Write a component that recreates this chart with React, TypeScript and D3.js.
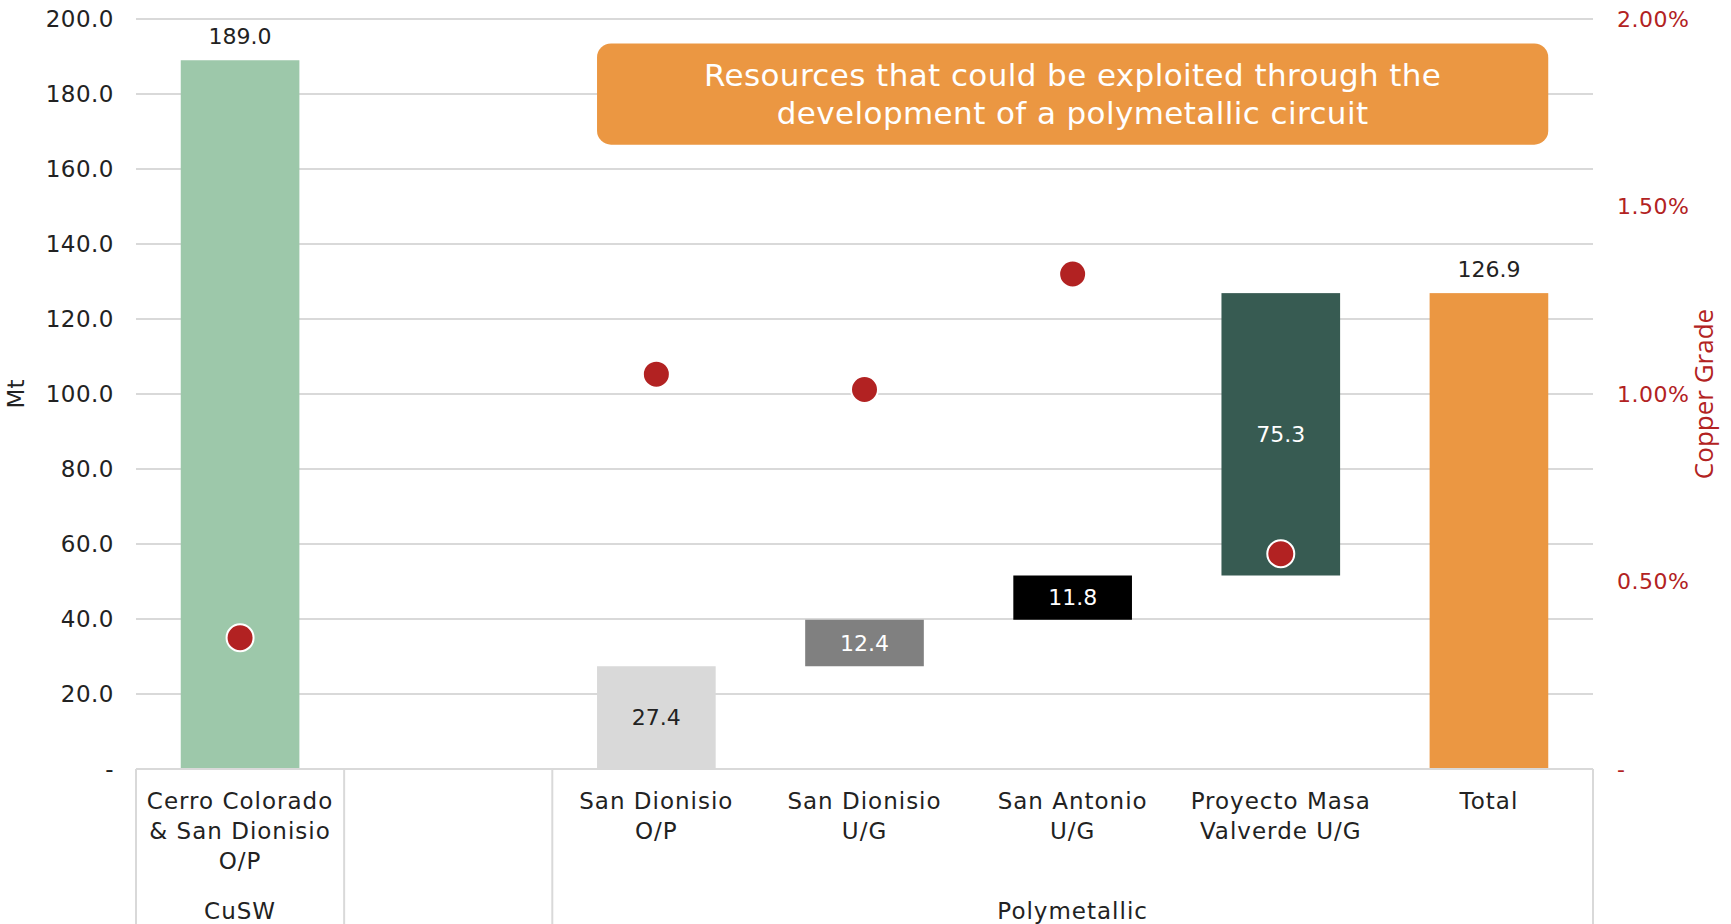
import React, { useEffect } from "react";
import * as d3 from "d3";

// categories (index 1 is an empty spacer slot in the original chart)
const categories = [
  ["Cerro Colorado", "& San Dionisio", "O/P"],
  [],
  ["San Dionisio", "O/P"],
  ["San Dionisio", "U/G"],
  ["San Antonio", "U/G"],
  ["Proyecto Masa", "Valverde U/G"],
  ["Total"],
];
const barBase = [0, null, 0, 27.4, 39.8, 51.6, 0];
const barValue = [189.0, null, 27.4, 12.4, 11.8, 75.3, 126.9];
const barColor = ["#9DC8AA", null, "#D9D9D9", "#808080", "#000000", "#375B52", "#EB9742"];
const copperGrade = [0.35, null, 1.053, 1.012, 1.32, 0.574, null];
const groups = [
  { label: "CuSW", from: 0, to: 0 },
  { label: "", from: 1, to: 1 },
  { label: "Polymetallic", from: 2, to: 6 },
];
const leftTicks = [0, 20, 40, 60, 80, 100, 120, 140, 160, 180, 200];
const rightTicks = [0, 0.5, 1.0, 1.5, 2.0];
const note = ["Resources that could be exploited through the", "development of a polymetallic circuit"];

const W = 1731;
const H = 924;
const FONT = "'DejaVu Sans', 'Open Sans', sans-serif";
const RED = "#B22222";

export default function App() {
  useEffect(() => {
    document.body.style.margin = "0";
  }, []);

  const margin = { left: 136, right: 138, top: 19, bottom: 155 };
  const x = d3
    .scaleBand<number>()
    .domain(d3.range(categories.length))
    .range([margin.left, W - margin.right])
    .paddingInner(0.43)
    .paddingOuter(0.215);
  const step = x.step();
  const slotStart = (i: number) => margin.left + i * step;
  const y = d3.scaleLinear().domain([0, 200]).range([H - margin.bottom, margin.top]);
  const yR = d3.scaleLinear().domain([0, 2]).range([H - margin.bottom, margin.top]);
  const x0 = margin.left;
  const x1 = W - margin.right;
  const yBase = y(0);

  return (
    <svg width={W} height={H} style={{ display: "block", background: "#fff" }} fontFamily={FONT}>
      {/* gridlines */}
      {leftTicks.slice(1).map((t) => (
        <line key={t} x1={x0} x2={x1} y1={y(t)} y2={y(t)} stroke="#D9D9D9" strokeWidth={2} />
      ))}
      {/* left axis labels */}
      {leftTicks.map((t) => (
        <text key={t} x={114} y={y(t)} dy="0.35em" textAnchor="end" fontSize={23} letterSpacing={0.5} fill="#222">
          {t === 0 ? "-" : d3.format(".1f")(t)}
        </text>
      ))}
      <text transform={`translate(24,${(y(0) + y(200)) / 2}) rotate(-90)`} textAnchor="middle" fontSize={23} fill="#222">
        Mt
      </text>
      {/* right axis labels */}
      {rightTicks.map((t) => (
        <text key={t} x={1617} y={yR(t)} dy="0.35em" fontSize={22} letterSpacing={0.5} fill={RED}>
          {t === 0 ? "-" : d3.format(".2f")(t) + "%"}
        </text>
      ))}
      <text
        transform={`translate(1713,${(yR(0) + yR(2)) / 2}) rotate(-90)`}
        textAnchor="middle"
        fontSize={26}
        fontFamily="'Open Sans', sans-serif"
        fill={RED}
      >
        Copper Grade
      </text>

      {/* bars */}
      {barValue.map((v, i) =>
        v == null ? null : (
          <rect
            key={i}
            x={x(i)}
            width={x.bandwidth()}
            y={y((barBase[i] as number) + v)}
            height={y(barBase[i] as number) - y((barBase[i] as number) + v)}
            fill={barColor[i] as string}
          />
        )
      )}
      {/* bar labels */}
      {barValue.map((v, i) => {
        if (v == null) return null;
        const b = barBase[i] as number;
        const floating = i >= 2 && i <= 5;
        const cx = (x(i) as number) + x.bandwidth() / 2;
        if (floating) {
          return (
            <text key={i} x={cx} y={y(b + v / 2)} dy="0.35em" textAnchor="middle" fontSize={22} fill={i === 2 ? "#222" : "#fff"}>
              {d3.format(".1f")(v)}
            </text>
          );
        }
        return (
          <text key={i} x={cx} y={y(b + v) - 24} dy="0.35em" textAnchor="middle" fontSize={22} fill="#222">
            {d3.format(".1f")(v)}
          </text>
        );
      })}

      {/* copper grade dots */}
      {copperGrade.map((g, i) =>
        g == null ? null : (
          <circle key={i} cx={(x(i) as number) + x.bandwidth() / 2} cy={yR(g)} r={13.5} fill={RED} stroke="#fff" strokeWidth={2} />
        )
      )}

      {/* annotation box */}
      <rect
        x={x(2)}
        y={y(193.5)}
        width={(x(6) as number) + x.bandwidth() - (x(2) as number)}
        height={y(166.5) - y(193.5)}
        rx={14}
        fill="#EB9742"
      />
      {note.map((line, k) => (
        <text
          key={k}
          x={((x(2) as number) + (x(6) as number) + x.bandwidth()) / 2}
          y={y(180) + (k - 0.5) * 38}
          dy="0.35em"
          textAnchor="middle"
          fontSize={31}
          letterSpacing={0.4}
          fill="#fff"
        >
          {line}
        </text>
      ))}

      {/* category axis */}
      <line x1={x0} x2={x1} y1={yBase} y2={yBase} stroke="#D9D9D9" strokeWidth={2} />
      {[0, 1, 2, categories.length].map((i) => (
        <line key={i} x1={slotStart(i)} x2={slotStart(i)} y1={yBase} y2={H} stroke="#D9D9D9" strokeWidth={2} />
      ))}
      {categories.map((lines, i) =>
        lines.map((ln, k) => (
          <text
            key={`${i}-${k}`}
            x={(x(i) as number) + x.bandwidth() / 2}
            y={yBase + 32 + k * 30}
            dy="0.35em"
            textAnchor="middle"
            fontSize={23}
            letterSpacing={1}
            fill="#222"
          >
            {ln}
          </text>
        ))
      )}
      {groups.map((g) => (
        <text
          key={g.label + g.from}
          x={(slotStart(g.from) + slotStart(g.to + 1)) / 2}
          y={yBase + 142}
          dy="0.35em"
          textAnchor="middle"
          fontSize={23}
          letterSpacing={1}
          fill="#222"
        >
          {g.label}
        </text>
      ))}
    </svg>
  );
}
